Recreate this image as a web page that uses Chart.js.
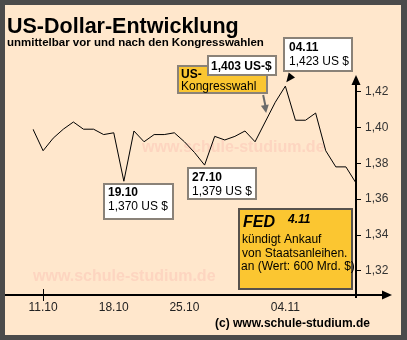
<!DOCTYPE html>
<html lang="de">
<head>
  <meta charset="UTF-8">
  <title>US-Dollar-Entwicklung</title>
  <script src="https://cdn.jsdelivr.net/npm/chart.js"></script>
  <style>
    html, body { margin: 0; padding: 0; background: #4b4b4b; }
    canvas { display: block; }
  </style>
</head>
<body>
  <canvas id="chartCanvas" width="407" height="340"></canvas>

  <script>
    // Kurs in US $ je Euro, Tageswerte
    const dates = [
      '10.10', '11.10', '12.10', '13.10', '14.10', '15.10', '16.10', '17.10', '18.10', '19.10',
      '20.10', '21.10', '22.10', '23.10', '24.10', '25.10', '26.10', '27.10', '28.10', '29.10',
      '30.10', '31.10', '01.11', '02.11', '03.11', '04.11', '05.11', '06.11', '07.11', '08.11',
      '09.11', '10.11', '11.11'
    ];
    const rates = [
      1.399, 1.387, 1.394, 1.399, 1.403, 1.399, 1.399, 1.396, 1.397, 1.370,
      1.398, 1.392, 1.396, 1.396, 1.397, 1.392, 1.386, 1.379, 1.395, 1.393,
      1.395, 1.398, 1.392, 1.403, 1.414, 1.423, 1.404, 1.404, 1.408, 1.387,
      1.378, 1.378, 1.369
    ];
    const shownDates = ['11.10', '18.10', '25.10', '04.11'];
    const yTicks = [1.32, 1.34, 1.36, 1.38, 1.40, 1.42];

    const FONT = 'Arial, "Liberation Sans", sans-serif';
    const BG = '#ffe7cc';
    const YELLOW = '#fbc631';
    const BOX_LINE = '#8a8278';

    const fmt = v => v.toFixed(3).replace('.', ',');

    function box(c, x, y, w, h, fill, stroke) {
      c.fillStyle = fill;
      c.fillRect(x, y, w, h);
      c.strokeStyle = stroke;
      c.lineWidth = 2;
      c.strokeRect(x + 1, y + 1, w - 2, h - 2);
    }

    function text(c, s, x, y, font, color) {
      c.font = font;
      c.fillStyle = color || '#000';
      c.fillText(s, x, y);
    }

    function arrowHead(c, fx, fy, tx, ty, len, half) {
      const a = Math.atan2(ty - fy, tx - fx);
      c.beginPath();
      c.moveTo(tx, ty);
      c.lineTo(tx - len * Math.cos(a) + half * Math.sin(a), ty - len * Math.sin(a) - half * Math.cos(a));
      c.lineTo(tx - len * Math.cos(a) - half * Math.sin(a), ty - len * Math.sin(a) + half * Math.cos(a));
      c.closePath();
      c.fill();
    }

    const decor = {
      id: 'decor',
      beforeDraw(chart) {
        const c = chart.ctx;
        c.save();
        c.fillStyle = '#4b4b4b';
        c.fillRect(0, 0, 407, 340);
        c.fillStyle = BG;
        c.fillRect(5, 5, 396, 330);
        c.textBaseline = 'alphabetic';
        text(c, 'US-Dollar-Entwicklung', 7, 33, 'bold 21.5px ' + FONT);
        text(c, 'unmittelbar vor und nach den Kongresswahlen', 7, 46, 'bold 11.5px ' + FONT);
        c.restore();
      },
      beforeDatasetsDraw(chart) {
        const c = chart.ctx;
        c.save();
        text(c, 'www.schule-studium.de', 142, 152, 'bold 16px ' + FONT, '#fdd5c0');
        text(c, 'www.schule-studium.de', 33, 281, 'bold 16px ' + FONT, '#fdd5c0');
        c.restore();
      },
      afterDraw(chart) {
        const c = chart.ctx;
        const { left, right, top, bottom } = chart.chartArea;
        const xs = chart.scales.x, ys = chart.scales.y;
        const pt = i => ({ x: xs.getPixelForValue(i), y: ys.getPixelForValue(rates[i]) });
        c.save();

        // Achsen mit Pfeilen
        c.strokeStyle = '#000';
        c.fillStyle = '#000';
        c.lineWidth = 2;
        c.beginPath();
        c.moveTo(5, bottom);
        c.lineTo(384, bottom);
        c.moveTo(right, bottom + 3);
        c.lineTo(right, top + 8);
        c.stroke();
        arrowHead(c, 380, bottom, 392, bottom, 10, 4.5);
        arrowHead(c, right, top + 20, right, top, 10, 4.5);

        // Markierung 11.10
        const t = Math.round(xs.getPixelForValue(dates.indexOf('11.10'))) + 0.5;
        c.lineWidth = 1;
        c.beginPath();
        c.moveTo(t, bottom - 6);
        c.lineTo(t, bottom + 6);
        c.stroke();

        // Kongresswahl
        const iVote = dates.indexOf('02.11');
        const pv = pt(iVote);
        c.strokeStyle = '#6b6b6b';
        c.fillStyle = '#6b6b6b';
        c.lineWidth = 2;
        c.beginPath();
        c.moveTo(pv.x - 2, 95);
        c.lineTo(pv.x + 0.5, pv.y - 15);
        c.stroke();
        arrowHead(c, pv.x - 2, 95, pv.x + 1, pv.y - 9, 8, 4);

        box(c, 177, 65, 91, 29, YELLOW, BOX_LINE);
        text(c, 'US-', 181, 78, 'bold 12px ' + FONT);
        text(c, 'Kongresswahl', 181, 90, '12px ' + FONT);
        box(c, 207, 55, 70, 21, '#fff', BOX_LINE);
        text(c, fmt(rates[iVote]) + ' US-$', 211, 70, 'bold 12px ' + FONT);

        // Hoechststand
        const iMax = dates.indexOf('04.11');
        const pm = pt(iMax);
        c.fillStyle = '#000';
        arrowHead(c, pm.x + 8, pm.y - 13, pm.x + 1, pm.y - 4, 9, 4);
        box(c, 283, 37, 70, 35, '#fff', BOX_LINE);
        text(c, '04.11', 289, 51, 'bold 12px ' + FONT);
        text(c, fmt(rates[iMax]) + ' US $', 289, 65, '12px ' + FONT);

        // Tiefstaende
        const i19 = dates.indexOf('19.10');
        box(c, 103, 183, 71, 37, '#fff', BOX_LINE);
        text(c, '19.10', 108, 196, 'bold 12px ' + FONT);
        text(c, fmt(rates[i19]) + ' US $', 108, 210, '12px ' + FONT);

        const i27 = dates.indexOf('27.10');
        box(c, 187, 167, 70, 33, '#fff', BOX_LINE);
        text(c, '27.10', 192, 181, 'bold 12px ' + FONT);
        text(c, fmt(rates[i27]) + ' US $', 192, 195, '12px ' + FONT);

        // FED
        box(c, 238, 208, 115, 82, YELLOW, '#57524c');
        text(c, 'FED', 243, 227, 'italic bold 16px ' + FONT);
        text(c, '4.11', 288, 223, 'italic bold 12px ' + FONT);
        text(c, 'kündigt Ankauf', 242, 243, '12px ' + FONT);
        text(c, 'von Staatsanleihen.', 242, 257, '12px ' + FONT);
        text(c, 'an (Wert: 600 Mrd. $)', 241, 270, '12px ' + FONT);

        text(c, '(c) www.schule-studium.de', 215, 327, 'bold 12px ' + FONT);
        c.restore();
      }
    };

    const ctx = document.getElementById('chartCanvas').getContext('2d');
    new Chart(ctx, {
      type: 'line',
      data: {
        labels: dates,
        datasets: [{
          data: rates,
          borderColor: '#000',
          borderWidth: 1,
          pointRadius: 0,
          tension: 0,
          fill: false
        }]
      },
      options: {
        responsive: false,
        animation: false,
        devicePixelRatio: 1,
        layout: { padding: { left: 33, top: 75, right: 0, bottom: 0 } },
        plugins: {
          legend: { display: false },
          tooltip: { enabled: false }
        },
        scales: {
          x: {
            grid: { display: false, drawTicks: false },
            border: { display: false },
            ticks: {
              autoSkip: false,
              maxRotation: 0,
              padding: 5,
              color: '#222',
              font: { family: FONT, size: 12 },
              callback: (v, i) => shownDates.includes(dates[i]) ? dates[i] : ''
            },
            afterFit(s) { s.height = 45; }
          },
          y: {
            position: 'right',
            min: 1.3066,
            max: 1.4292,
            afterBuildTicks(s) { s.ticks = yTicks.map(v => ({ value: v })); },
            grid: { drawOnChartArea: false, drawTicks: true, tickLength: 5, color: '#000', lineWidth: 1 },
            border: { display: false },
            ticks: {
              padding: 4,
              color: '#333',
              font: { family: FONT, size: 12 },
              callback: v => v.toFixed(2).replace('.', ',')
            },
            afterFit(s) { s.width = 51; }
          }
        }
      },
      plugins: [decor]
    });
  </script>
</body>
</html>
